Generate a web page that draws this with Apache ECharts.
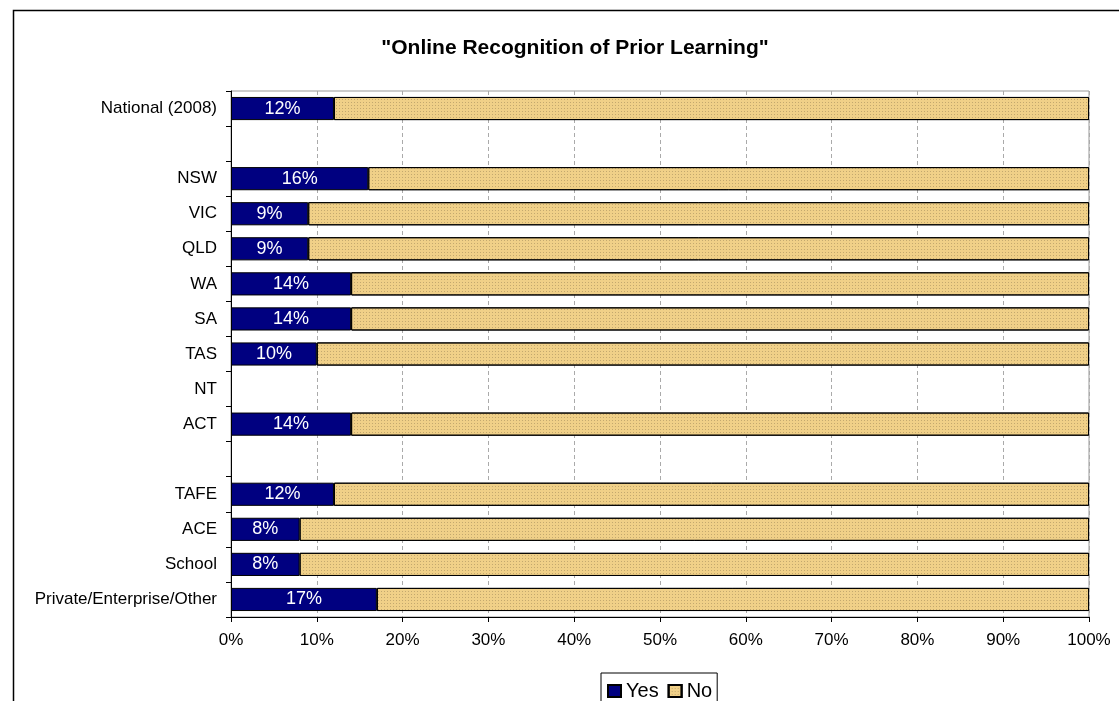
<!DOCTYPE html>
<html>
<head>
<meta charset="utf-8">
<title>Online Recognition of Prior Learning</title>
<script src="https://cdn.jsdelivr.net/npm/echarts@6/dist/echarts.min.js"></script>
<style>
  html, body { margin: 0; padding: 0; background: #fff; }
  #main { width: 1119px; height: 701px; }
</style>
</head>
<body>
<div id="main"></div>
<script>
// categories top to bottom (blank rows are spacers)
var categories = ['National (2008)', ' ', 'NSW', 'VIC', 'QLD', 'WA', 'SA', 'TAS', 'NT', 'ACT', '  ',
                  'TAFE', 'ACE', 'School', 'Private/Enterprise/Other'];
// share answering "Yes" (%), '-' = no bar
var yesValues = [12, '-', 16, 9, 9, 14, 14, 10, '-', 14, '-', 12, 8, 8, 17];
// share answering "No" (%)
var noValues = [88, '-', 84, 91, 91, 86, 86, 90, '-', 86, '-', 88, 92, 92, 83];
var xTicks = [0, 10, 20, 30, 40, 50, 60, 70, 80, 90, 100];

var myChart = echarts.init(document.getElementById('main'));
var font = '"Liberation Sans", Arial, sans-serif';

var option = {
    animation: false,
    textStyle: { fontFamily: font },
    title: {
        text: '"Online Recognition of Prior Learning"',
        left: 570,
        top: 33,
        textAlign: 'center',
        textStyle: { fontSize: 21, fontWeight: 'bold', color: '#000', fontFamily: font }
    },
    graphic: [{
        type: 'rect',
        shape: { x: 13.5, y: 10.5, width: 1200, height: 800 },
        style: { fill: 'none', stroke: '#000', lineWidth: 1.5 },
        silent: true
    }],
    legend: {
        data: ['Yes', 'No'],
        left: 601,
        top: 673,
        padding: [8, 5, 8, 6],
        borderColor: '#000',
        borderWidth: 1,
        itemWidth: 13,
        itemHeight: 12,
        itemGap: 9,
        icon: 'rect',
        textStyle: { fontSize: 20, color: '#000', fontFamily: font }
    },
    grid: {
        left: 231,
        right: 30,
        top: 91,
        bottom: 84,
        show: true,
        borderColor: '#999',
        borderWidth: 1
    },
    xAxis: {
        type: 'value',
        min: 0,
        max: 100,
        interval: 10,
        axisLine: { show: true, lineStyle: { color: '#000', width: 1 } },
        axisTick: { show: true, length: 5, lineStyle: { color: '#000' } },
        axisLabel: {
            fontSize: 17, color: '#000', margin: 15, fontFamily: font,
            formatter: function (v) { return xTicks.indexOf(v) >= 0 ? v + '%' : ''; }
        },
        splitLine: { show: true, lineStyle: { color: '#AAA', type: [4, 3], width: 1 } }
    },
    yAxis: {
        type: 'category',
        inverse: true,
        data: categories,
        axisLine: { show: true, lineStyle: { color: '#000', width: 1 } },
        axisTick: { show: true, length: 5, lineStyle: { color: '#000' } },
        axisLabel: { fontSize: 17, color: '#000', margin: 14, fontFamily: font },
        splitLine: { show: false }
    },
    series: [
        {
            name: 'Yes',
            type: 'bar',
            stack: 'all',
            barWidth: '66%',
            itemStyle: { color: '#000080', borderColor: '#000', borderWidth: 1 },
            label: {
                show: true,
                position: 'inside',
                color: '#fff',
                fontSize: 18,
                fontFamily: font,
                formatter: '{c}%'
            },
            data: yesValues
        },
        {
            name: 'No',
            type: 'bar',
            stack: 'all',
            barWidth: '66%',
            itemStyle: {
                color: '#F0D088',
                borderColor: '#000',
                borderWidth: 1,
                decal: {
                    symbol: 'rect',
                    symbolSize: 1,
                    dashArrayX: [1, 2],
                    dashArrayY: [1, 2],
                    color: 'rgba(140,120,80,0.45)'
                }
            },
            data: noValues
        }
    ]
};
myChart.setOption(option);
</script>
</body>
</html>
